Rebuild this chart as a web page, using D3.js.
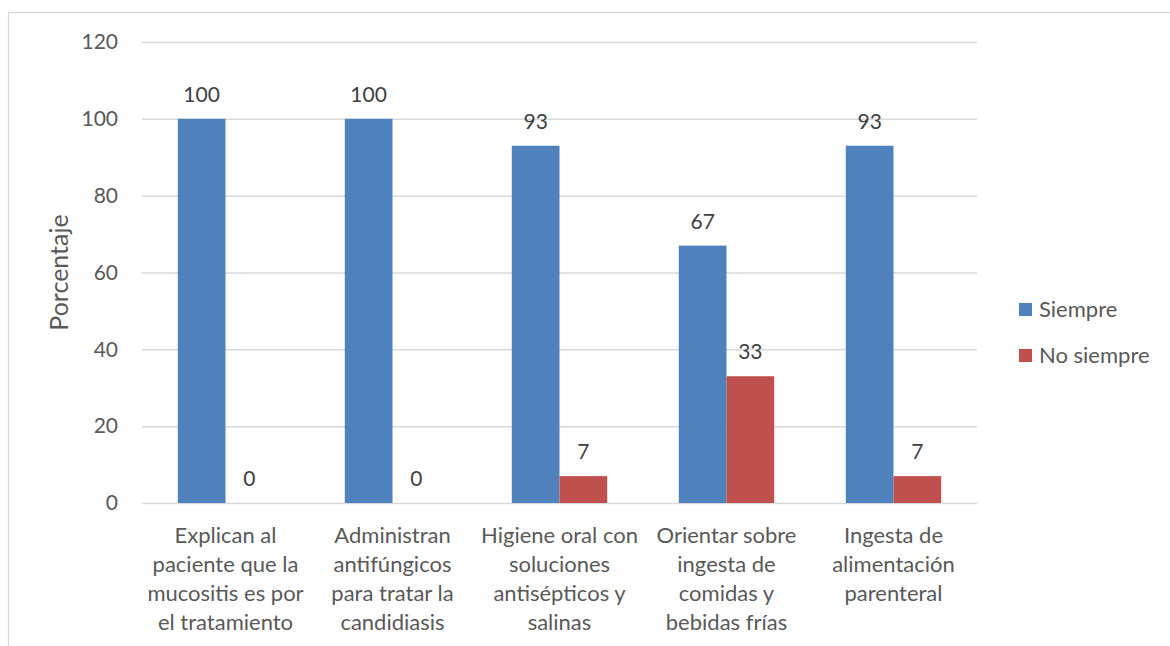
<!DOCTYPE html>
<html lang="es">
  <head>
    <meta charset="utf-8">
    <title>Porcentaje</title>
    <script src="https://cdn.jsdelivr.net/npm/d3@7"></script>
    <style>
      body { margin: 0; background: #fff; }
      text { font-family: Lato, "Open Sans", sans-serif; }
    </style>
  </head>
  <body>
    <script>
    // categories (wrapped lines as in the original)
    var categories = [
      ["Explican al", "paciente que la", "mucositis es por", "el tratamiento"],
      ["Administran", "antifúngicos", "para tratar la", "candidiasis"],
      ["Higiene oral con", "soluciones", "antisépticos y", "salinas"],
      ["Orientar sobre", "ingesta de", "comidas y", "bebidas frías"],
      ["Ingesta de", "alimentación", "parenteral"]
    ];
    var seriesNames = ["Siempre", "No siempre"];
    var siempre = [100, 100, 93, 67, 93];
    var noSiempre = [0, 0, 7, 33, 7];
    var yTicks = [0, 20, 40, 60, 80, 100, 120];
    var colors = ["#4f81bd", "#c0504d"];

    var w = 1170, h = 646;
    var plotLeft = 142, plotRight = 977, plotTop = 42, plotBottom = 503;
    var fontSize = 21;

    var svg = d3.select("body").append("svg")
      .attr("width", w)
      .attr("height", h);

    // chart area border
    svg.append("rect")
      .attr("x", 8.5).attr("y", 12.5)
      .attr("width", w + 20).attr("height", h + 20)
      .attr("fill", "#fff")
      .attr("stroke", "#d9d9d9")
      .attr("stroke-width", 1.2);

    var xScale = d3.scaleBand()
      .domain(d3.range(categories.length))
      .range([plotLeft, plotRight])
      .padding(0);

    var sub = d3.scaleBand()
      .domain([0, 1])
      .range([0, xScale.bandwidth()])
      .paddingInner(0)
      .paddingOuter(0.75);

    var yScale = d3.scaleLinear()
      .domain([0, 120])
      .range([plotBottom, plotTop]);

    // gridlines + tick labels via axis
    var yAxis = d3.axisLeft(yScale)
      .tickValues(yTicks)
      .tickSize(-(plotRight - plotLeft))
      .tickPadding(24);

    var gy = svg.append("g")
      .attr("transform", "translate(" + plotLeft + ",0)")
      .call(yAxis);
    gy.select(".domain").remove();
    gy.selectAll(".tick line")
      .attr("stroke", "#d9d9d9")
      .attr("stroke-width", 1.5);
    gy.selectAll(".tick text")
      .attr("fill", "#595959")
      .attr("font-size", fontSize)
      .attr("font-family", "Lato, sans-serif");

    var series = [siempre, noSiempre];

    series.forEach(function(vals, s) {
      svg.append("g").selectAll("rect")
        .data(vals)
        .enter()
        .append("rect")
        .attr("x", function(d, i) { return xScale(i) + sub(s); })
        .attr("y", function(d) { return yScale(d); })
        .attr("width", sub.bandwidth())
        .attr("height", function(d) { return plotBottom - yScale(d); })
        .attr("fill", colors[s]);

      svg.append("g").selectAll("text")
        .data(vals)
        .enter()
        .append("text")
        .text(function(d) { return d; })
        .attr("x", function(d, i) { return xScale(i) + sub(s) + sub.bandwidth() / 2; })
        .attr("y", function(d) { return yScale(d) - 17; })
        .attr("text-anchor", "middle")
        .attr("font-size", fontSize)
        .attr("fill", "#404040");
    });

    // category labels
    var catG = svg.append("g").selectAll("text")
      .data(categories)
      .enter()
      .append("text")
      .attr("text-anchor", "middle")
      .attr("font-size", 22)
      .attr("fill", "#595959");

    catG.selectAll("tspan")
      .data(function(d, i) { return d.map(function(line) { return {line: line, i: i}; }); })
      .enter()
      .append("tspan")
      .attr("x", function(d) { return xScale(d.i) + xScale.bandwidth() / 2; })
      .attr("y", function(d, j) { return 543 + j * 29; })
      .text(function(d) { return d.line; });

    // y axis title
    svg.append("text")
      .attr("transform", "translate(68," + ((plotTop + plotBottom) / 2) + ") rotate(-90)")
      .attr("text-anchor", "middle")
      .attr("font-size", 25)
      .attr("fill", "#595959")
      .text("Porcentaje");

    // legend
    var legend = svg.append("g").selectAll("g")
      .data(seriesNames)
      .enter()
      .append("g")
      .attr("transform", function(d, i) { return "translate(1019," + (303 + i * 46) + ")"; });

    legend.append("rect")
      .attr("width", 13).attr("height", 13)
      .attr("fill", function(d, i) { return colors[i]; });

    legend.append("text")
      .attr("x", 20).attr("y", 14)
      .attr("font-size", 22)
      .attr("fill", "#595959")
      .text(function(d) { return d; });
    </script>
  </body>
</html>
